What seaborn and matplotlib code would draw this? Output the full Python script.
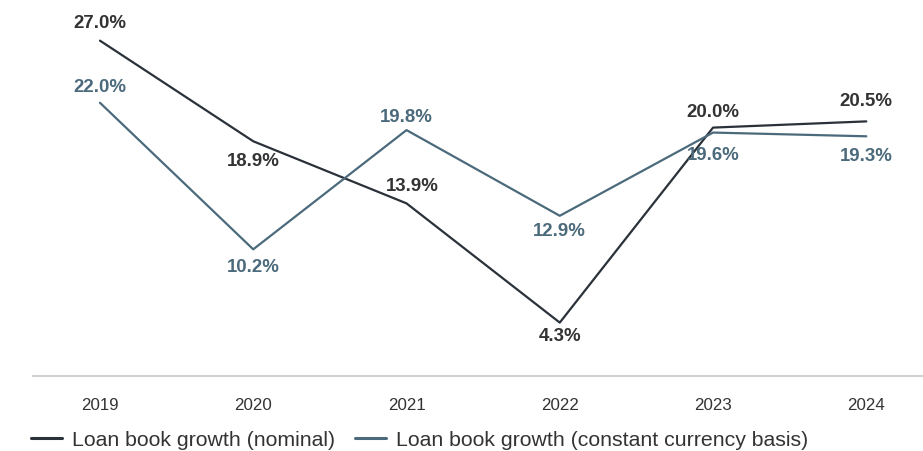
import matplotlib
matplotlib.use("Agg")
import matplotlib.pyplot as plt
import seaborn as sns
import pandas as pd

# Data
years = ["2019", "2020", "2021", "2022", "2023", "2024"]
nominal = [27.0, 18.9, 13.9, 4.3, 20.0, 20.5]
constant = [22.0, 10.2, 19.8, 12.9, 19.6, 19.3]
series_names = ["Loan book growth (nominal)",
                "Loan book growth (constant currency basis)"]

colors = ["#2a3138", "#4b6a7b"]

sns.set_theme(style="white")
plt.rcParams["font.family"] = ["Liberation Sans", "DejaVu Sans"]

W, H = 923, 452
fig = plt.figure(figsize=(W / 100, H / 100), dpi=100)
# axes placed in pixel terms
ax_left, ax_right, ax_top, ax_bottom = 33, 923, 4.4, 377
ax = fig.add_axes([ax_left / W, 1 - ax_bottom / H,
                   (ax_right - ax_left) / W, (ax_bottom - ax_top) / H])

df = pd.DataFrame({
    "x": list(range(len(years))) * 2,
    "value": nominal + constant,
    "series": [series_names[0]] * len(years) + [series_names[1]] * len(years),
})

sns.lineplot(data=df, x="x", y="value", hue="series", palette=colors,
             linewidth=1.6, ax=ax, legend=False)

ax.set_xlim(-0.437, 5.37)
ax.set_ylim(0, 30)
ax.set_xticks(range(len(years)))
ax.set_xticklabels(years)
ax.set_yticks([])
ax.set_xlabel("")
ax.set_ylabel("")
for side in ["top", "right", "left"]:
    ax.spines[side].set_visible(False)
ax.spines["bottom"].set_color("#c6c6c6")
ax.spines["bottom"].set_linewidth(1.2)
ax.tick_params(axis="x", length=0, pad=15, labelsize=12.2, labelcolor="#333333")

# value labels: pixel offsets (dx, dy) relative to each point
nom_off = [(0, 18), (0, -19), (6, 18), (0, -13), (0, 16), (0, 21)]
con_off = [(0, 16), (0, -17), (0, 14), (0, -15), (0, -22), (0, -19)]
label_colors = ["#333333", "#4b6a7b"]
for vals, offs, col in [(nominal, nom_off, label_colors[0]),
                        (constant, con_off, label_colors[1])]:
    for i, (v, (dx, dy)) in enumerate(zip(vals, offs)):
        ax.annotate(f"{v:.1f}%", xy=(i, v), xytext=(dx * 0.72, dy * 0.72),
                    textcoords="offset points", ha="center", va="center",
                    fontsize=13.4, fontweight="bold", color=col)

# legend below the axis
from matplotlib.lines import Line2D
handles = [Line2D([0], [0], color=c, linewidth=2.2) for c in colors]
fig.legend(handles, series_names, loc="center left",
           bbox_to_anchor=(31 / W, 1 - 441 / H), ncol=2, frameon=False,
           fontsize=15.3, handlelength=1.45, handletextpad=0.5,
           columnspacing=0.9, borderpad=0, borderaxespad=0,
           labelcolor="#333333")

fig.savefig("out.png", dpi=100)
